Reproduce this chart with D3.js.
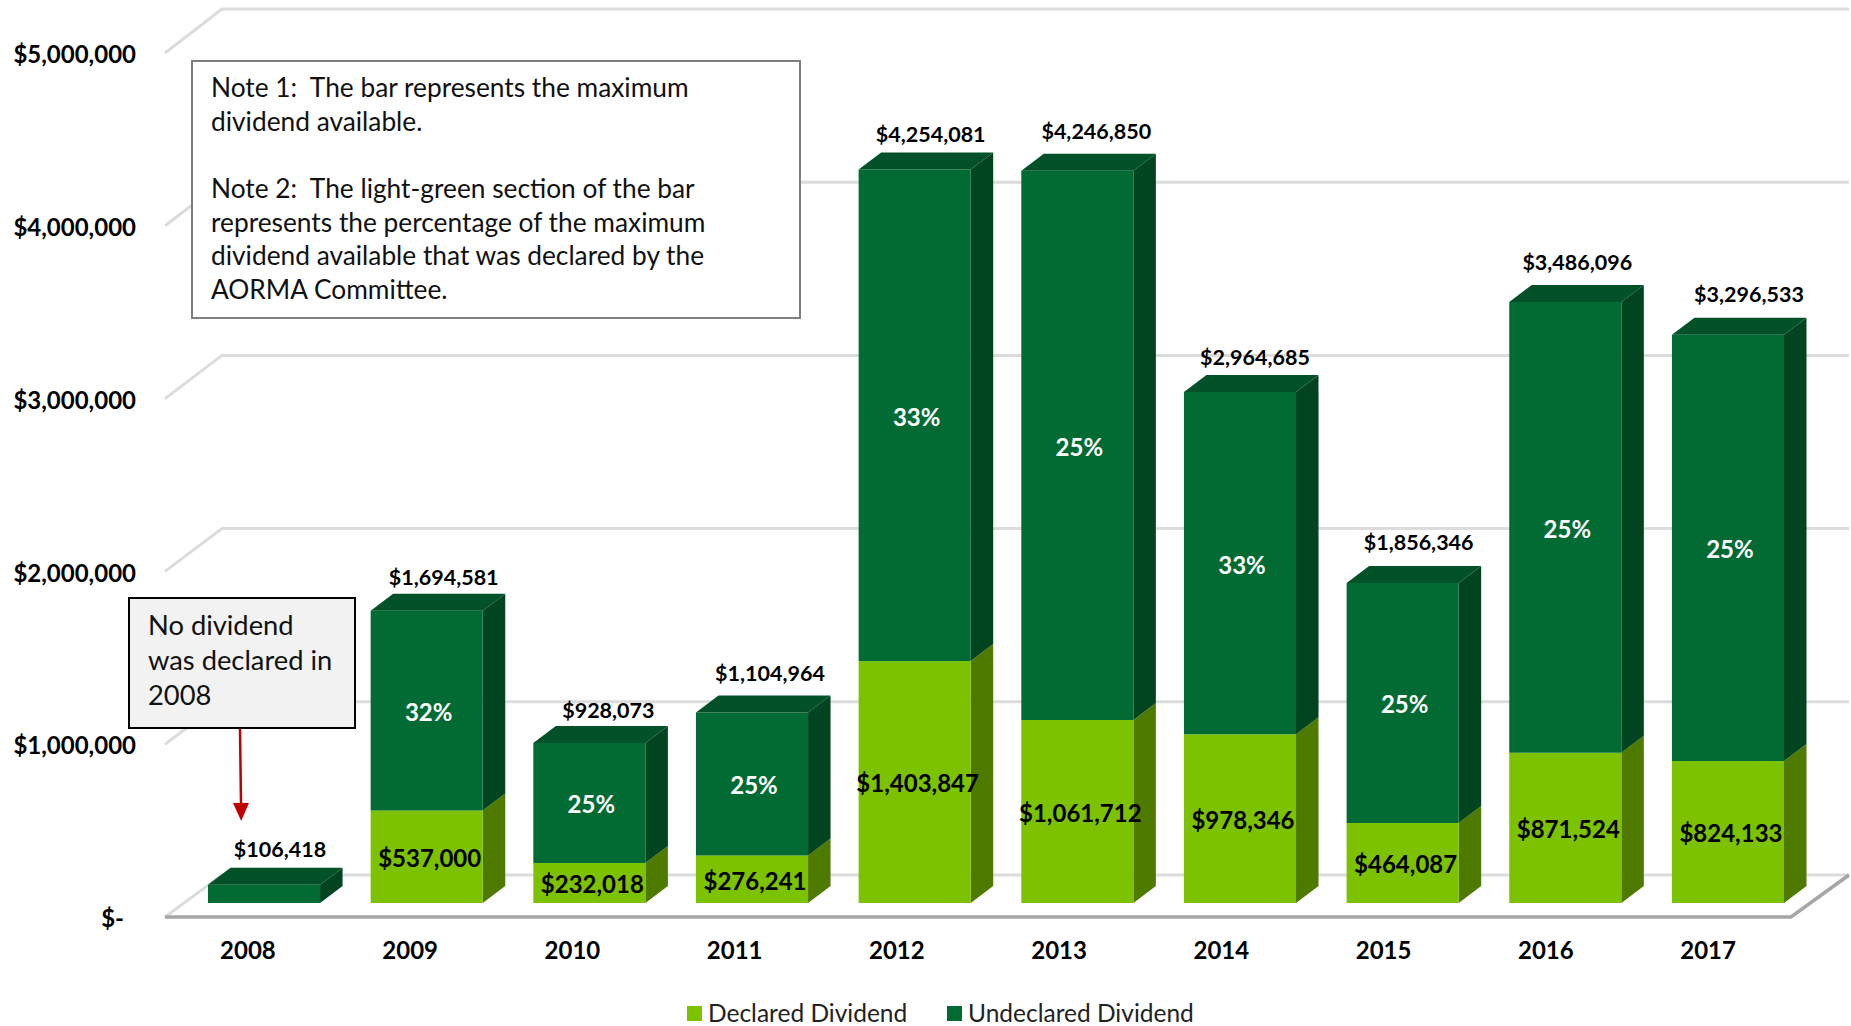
<!DOCTYPE html>
<html>
<head>
<meta charset="utf-8">
<title>Dividend by year</title>
<script src="https://cdn.jsdelivr.net/npm/d3@7/dist/d3.min.js"></script>
<style>
  html, body { margin: 0; background: #fff; }
  svg { display: block; font-family: Lato, "Open Sans", sans-serif; }
  text { white-space: pre; }
  .axis path, .axis line { display: none; }
  .axis text { font-family: Lato, "Open Sans", sans-serif; font-weight: 700; fill: #000; }
</style>
</head>
<body>
<div id="chart"></div>
<script>
var years = [2008, 2009, 2010, 2011, 2012, 2013, 2014, 2015, 2016, 2017];
var totals = [106418, 1694581, 928073, 1104964, 4254081, 4246850, 2964685, 1856346, 3486096, 3296533];
var declared = [0, 537000, 232018, 276241, 1403847, 1061712, 978346, 464087, 871524, 824133];
var percents = [null, 32, 25, 25, 33, 25, 33, 25, 25, 25];
var yTicks = [0, 1000000, 2000000, 3000000, 4000000, 5000000];
var seriesNames = ["Declared Dividend", "Undeclared Dividend"];
var noteLines = [
  "Note 1:  The bar represents the maximum",
  "dividend available.",
  "",
  "Note 2:  The light-green section of the bar",
  "represents the percentage of the maximum",
  "dividend available that was declared by the",
  "AORMA Committee."
];
var calloutLines = ["No dividend", "was declared in", "2008"];

// hand placed total labels, pixels away from their default spot
var totalLabelShift = [
  [-1, 0], [0, 2], [2, 2], [1, -4], [-1, 0],
  [2, -4], [-2, 1], [-1, -5], [-5, -5], [4, -5]
];

var width = 1851,
    height = 1026,
    depthX = 22.5,
    depthY = 17;

// front, side and top shades of each stacked segment
var shades = {
  declared: { front: "#7dc200", side: "#4f7a00", top: "#4f7a00" },
  undeclared: { front: "#026b33", side: "#004420", top: "#025128" }
};

var x = d3.scaleBand()
    .domain(years)
    .range([208, 1784])
    .paddingInner(0.311)
    .paddingOuter(0);

// year labels sit on a slightly tighter band than the bars
var xLabels = x.copy().range([192, 1764]);

var y = d3.scaleLinear()
    .domain([0, 5000000])
    .range([903, 41]);

// same values measured along the back wall
var wallY = d3.scaleLinear()
    .domain([0, 5000000])
    .range([875, 9]);

// and where the left axis labels hang
var tickY = d3.scaleLinear()
    .domain([0, 5000000])
    .range([917, 53]);

var rows = years.map(function(year, i) {
  return { year: year, declared: declared[i], undeclared: totals[i] - declared[i], total: totals[i], percent: percents[i], shift: totalLabelShift[i] };
});

var stacked = d3.stack().keys(["declared", "undeclared"])(rows);

var svg = d3.select("#chart").append("svg")
    .attr("width", width)
    .attr("height", height);

// back wall gridlines with the short diagonal on the left wall
var wallLeft = 165, wallBack = 222, wallRight = 1849, floorRight = 1791;
var grid = svg.append("g");

grid.selectAll(".grid")
    .data(yTicks)
    .enter().append("path")
    .attr("class", "grid")
    .attr("fill", "none")
    .attr("stroke", "#dcdcdc")
    .attr("stroke-width", 3)
    .attr("d", function(d) {
      return "M" + wallLeft + "," + tickY(d) + "L" + wallBack + "," + wallY(d) + "L" + wallRight + "," + wallY(d);
    });

// front edge of the floor, darker than the wall lines
grid.append("path")
    .attr("fill", "none")
    .attr("stroke", "#a6a6a6")
    .attr("stroke-width", 3.5)
    .attr("d", "M" + wallLeft + "," + tickY(0) + "L" + floorRight + "," + tickY(0) + "L" + wallRight + "," + wallY(0));

function facePath(points) {
  return "M" + points.join("L") + "Z";
}

var bars = svg.append("g").selectAll("g")
    .data(rows)
    .enter().append("g");

bars.each(function(row, i) {
  var g = d3.select(this),
      left = x(row.year),
      right = left + x.bandwidth();

  stacked.forEach(function(layer) {
    var y0 = y(layer[i][0]),
        y1 = y(layer[i][1]),
        shade = shades[layer.key];
    if (layer[i][1] === layer[i][0]) return;

    g.append("path")
        .attr("fill", shade.side)
        .attr("d", facePath([[right, y0], [right + depthX, y0 - depthY], [right + depthX, y1 - depthY], [right, y1]]));
    g.append("path")
        .attr("fill", shade.front)
        .attr("d", facePath([[left, y0], [right, y0], [right, y1], [left, y1]]));
  });

  var top = y(row.total);
  g.append("path")
      .attr("fill", shades.undeclared.top)
      .attr("d", facePath([[left, top], [right, top], [right + depthX, top - depthY], [left + depthX, top - depthY]]));
});

// value labels
bars.filter(function(d) { return d.declared > 0; }).append("text")
    .attr("x", function(d) { return x(d.year) + x.bandwidth() / 2 + 3; })
    .attr("y", function(d) { return y(d.declared / 2) + 2; })
    .attr("dy", ".35em")
    .attr("text-anchor", "middle")
    .attr("font-size", 24)
    .attr("font-weight", 700)
    .attr("fill", "#000")
    .text(function(d) { return d3.format("$,")(d.declared); });

bars.filter(function(d) { return d.percent !== null; }).append("text")
    .attr("x", function(d) { return x(d.year) + x.bandwidth() / 2 + 2; })
    .attr("y", function(d) { return y(d.declared + d.undeclared / 2) + 2; })
    .attr("dy", ".35em")
    .attr("text-anchor", "middle")
    .attr("font-size", 24)
    .attr("font-weight", 700)
    .attr("fill", "#fff")
    .text(function(d) { return d.percent + "%"; });

bars.append("text")
    .attr("x", function(d) { return x(d.year) + x.bandwidth() / 2 + 17 + d.shift[0]; })
    .attr("y", function(d) { return y(d.total) - depthY - 18 + d.shift[1]; })
    .attr("dy", ".35em")
    .attr("text-anchor", "middle")
    .attr("font-size", 21.5)
    .attr("font-weight", 700)
    .attr("fill", "#000")
    .text(function(d) { return d3.format("$,")(d.total); });

// axes
var yAxis = svg.append("g")
    .attr("class", "axis")
    .attr("transform", "translate(136,2)")
    .call(d3.axisLeft(tickY)
      .tickValues(yTicks)
      .tickSize(0)
      .tickPadding(0)
      .tickFormat(function(d) { return d === 0 ? "$-" : d3.format("$,")(d); }));

yAxis.selectAll("text").attr("font-size", 24);
yAxis.selectAll(".tick").filter(function(d) { return d === 0; }).select("text").attr("x", -12);

var xAxis = svg.append("g")
    .attr("class", "axis")
    .attr("transform", "translate(0,951)")
    .call(d3.axisBottom(xLabels).tickSize(0).tickPadding(0));

xAxis.selectAll("text")
    .attr("y", 0)
    .attr("dy", ".35em")
    .attr("font-size", 24);

// legend
var legendItems = [
  { name: seriesNames[0], color: shades.declared.front, swatch: 687, text: 708 },
  { name: seriesNames[1], color: shades.undeclared.front, swatch: 947, text: 968 }
];

var legend = svg.append("g").selectAll("g")
    .data(legendItems)
    .enter().append("g");

legend.append("rect")
    .attr("x", function(d) { return d.swatch; })
    .attr("y", 1006)
    .attr("width", 15)
    .attr("height", 15)
    .attr("fill", function(d) { return d.color; });

legend.append("text")
    .attr("x", function(d) { return d.text; })
    .attr("y", 1013)
    .attr("dy", ".35em")
    .attr("font-size", 24.5)
    .attr("fill", "#222")
    .text(function(d) { return d.name; });

// note box
svg.append("rect")
    .attr("x", 192)
    .attr("y", 61)
    .attr("width", 608)
    .attr("height", 257)
    .attr("fill", "#fff")
    .attr("stroke", "#7f7f7f")
    .attr("stroke-width", 2);

svg.append("g").selectAll("text")
    .data(noteLines)
    .enter().append("text")
    .attr("x", 211)
    .attr("y", function(d, i) { return 88 + i * 33.6; })
    .attr("dy", ".35em")
    .attr("font-size", 26.3)
    .attr("fill", "#111")
    .text(function(d) { return d; });

// 2008 callout and its arrow
svg.append("defs").append("marker")
    .attr("id", "arrowHead")
    .attr("markerUnits", "userSpaceOnUse")
    .attr("markerWidth", 18)
    .attr("markerHeight", 20)
    .attr("refX", 0)
    .attr("refY", 8)
    .attr("orient", "auto")
    .append("path")
    .attr("d", "M0,0L18,8L0,16Z")
    .attr("fill", "#c00000");

svg.append("line")
    .attr("x1", 240)
    .attr("y1", 728)
    .attr("x2", 241)
    .attr("y2", 803)
    .attr("stroke", "#c00000")
    .attr("stroke-width", 2.5)
    .attr("marker-end", "url(#arrowHead)");

svg.append("rect")
    .attr("x", 129)
    .attr("y", 598)
    .attr("width", 226)
    .attr("height", 130)
    .attr("fill", "#f2f2f2")
    .attr("stroke", "#000")
    .attr("stroke-width", 2);

svg.append("g").selectAll("text")
    .data(calloutLines)
    .enter().append("text")
    .attr("x", 148)
    .attr("y", function(d, i) { return 625.5 + i * 35; })
    .attr("dy", ".35em")
    .attr("font-size", 27.3)
    .attr("fill", "#111")
    .text(function(d) { return d; });
</script>
</body>
</html>
